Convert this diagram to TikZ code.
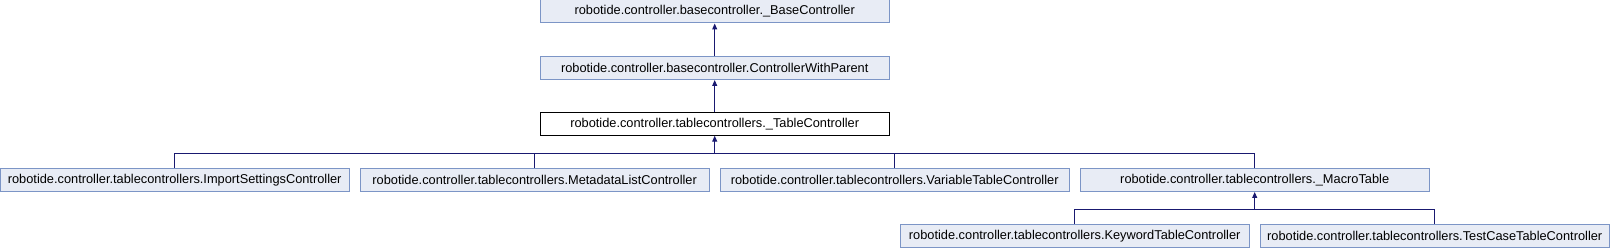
\documentclass[tikz,border=0pt]{standalone}
\usepackage{fontspec}
\setmainfont{Liberation Sans}
\usepackage{tikz}
\usetikzlibrary{arrows.meta,positioning,calc}
\definecolor{navy}{RGB}{25,25,112}
\definecolor{clsfill}{RGB}{232,236,245}
\definecolor{clsline}{RGB}{124,149,198}
\tikzset{
  cls/.style={draw=clsline,fill=clsfill,line width=1pt,minimum width=349pt,minimum height=23pt,inner sep=0pt,font=\fontsize{12.8}{14}\selectfont},
  focus/.style={cls,draw=black,fill=white},
  link/.style={draw=navy,line width=1pt},
  arr/.style={link,-{Triangle[length=6pt,width=5pt]}},
}

\begin{document}
\begin{tikzpicture}[x=1pt,y=-1pt]
  \useasboundingbox (0,0) rectangle (1610,248);
  % top of the hierarchy
  \node[cls] (base) at (714.7,11.5) {robotide.controller.basecontroller.\_BaseController};
  \node[cls] (parent) at (714.7,68) {robotide.controller.basecontroller.ControllerWithParent};
  \node[focus] (table) at (714.7,123.7) {robotide.controller.tablecontrollers.\_TableController};
  % subclasses
  \node[cls] (imp) at (174.7,180) {robotide.controller.tablecontrollers.ImportSettingsController};
  \node[cls] (meta) at (534.7,180) {robotide.controller.tablecontrollers.MetadataListController};
  \node[cls] (var) at (894.7,180) {robotide.controller.tablecontrollers.VariableTableController};
  \node[cls] (macro) at (1254.7,180) {robotide.controller.tablecontrollers.\_MacroTable};
  \node[cls] (kw) at (1074.7,235.8) {robotide.controller.tablecontrollers.KeywordTableController};
  \node[cls] (tc) at (1434.7,235.8) {robotide.controller.tablecontrollers.TestCaseTableController};
  % connectors
  \draw[arr] (parent) -- (base);
  \draw[arr] (table) -- (parent);
  \coordinate (bus1) at ($(table.south)+(0,17.5)$);
  \coordinate (bus2) at ($(macro.south)+(0,17.5)$);
  \foreach \c in {imp,meta,var,macro}
    \draw[link] (\c.north) |- (bus1);
  \draw[arr] (bus1) -- (table.south);
  \foreach \c in {kw,tc}
    \draw[link] (\c.north) |- (bus2);
  \draw[arr] (bus2) -- (macro.south);
\end{tikzpicture}
\end{document}
